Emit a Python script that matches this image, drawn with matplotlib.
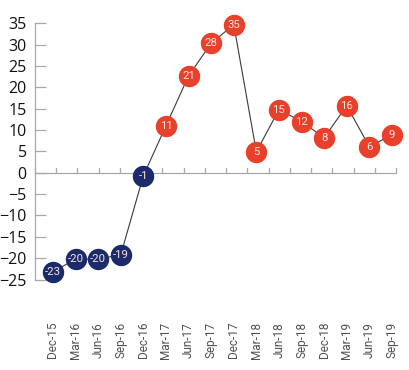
import matplotlib.pyplot as plt
import numpy as np

quarters = ["Dec-15", "Mar-16", "Jun-16", "Sep-16", "Dec-16", "Mar-17", "Jun-17", "Sep-17",
            "Dec-17", "Mar-18", "Jun-18", "Sep-18", "Dec-18", "Mar-19", "Jun-19", "Sep-19"]
# marker heights as drawn in the picture
values = [-23.2, -20.2, -20.2, -19.2, -0.7, 11, 22.7, 30.3, 34.7, 4.9, 14.8, 12, 8.2, 15.7, 6.1, 8.9]
# numbers printed inside the markers
labels = [-23, -20, -20, -19, -1, 11, 21, 28, 35, 5, 15, 12, 8, 16, 6, 9]

red = '#e8402b'
navy = '#1b2a6a'
axis_grey = '#a8a8a8'

fig = plt.figure(figsize=(4.1, 3.7), dpi=100)
ax = fig.add_axes([35 / 410, 55 / 370, 361 / 410, 291.7 / 370])

x = np.arange(len(quarters))
ax.plot(x, values, color='#3a3a3a', lw=0.8, zorder=2, clip_on=False)
for xi, v, lab in zip(x, values, labels):
    c = navy if lab < 0 else red
    ax.plot(xi, v, 'o', ms=14.4, color=c, mec=c, zorder=3, clip_on=False)
    ax.text(xi, v, str(lab), ha='center', va='center', color='#fbe3de', fontsize=8.2,
            family='Roboto', zorder=4)

ax.set_xlim(-0.796, 15.18)
ax.set_ylim(-33.3, 35)

# zero line with its small upward ticks
xmin, xmax = ax.get_xlim()
ax.axhline(0, color=axis_grey, lw=0.9, zorder=1)
for t in np.linspace(xmin, xmax, 18):
    ax.plot([t, t], [0, 1.2], color=axis_grey, lw=0.9, zorder=1, clip_on=False)

for s in ['top', 'right', 'bottom']:
    ax.spines[s].set_visible(False)
ax.spines['left'].set_color(axis_grey)
ax.spines['left'].set_linewidth(0.9)
ax.spines['left'].set_bounds(-25, 35)

ax.set_yticks(np.arange(-25, 36, 5))
ax.tick_params(axis='y', direction='in', length=8, width=0.9, color=axis_grey, pad=6,
               labelsize=11.5, labelcolor='#111111')
for lab in ax.get_yticklabels():
    lab.set_family('Open Sans')

ax.set_xticks(x)
ax.set_xticklabels(quarters, rotation=90, fontsize=8.5, color='#505050', family='Roboto')
ax.tick_params(axis='x', length=0, pad=5)

fig.savefig('out.png', dpi=100)
